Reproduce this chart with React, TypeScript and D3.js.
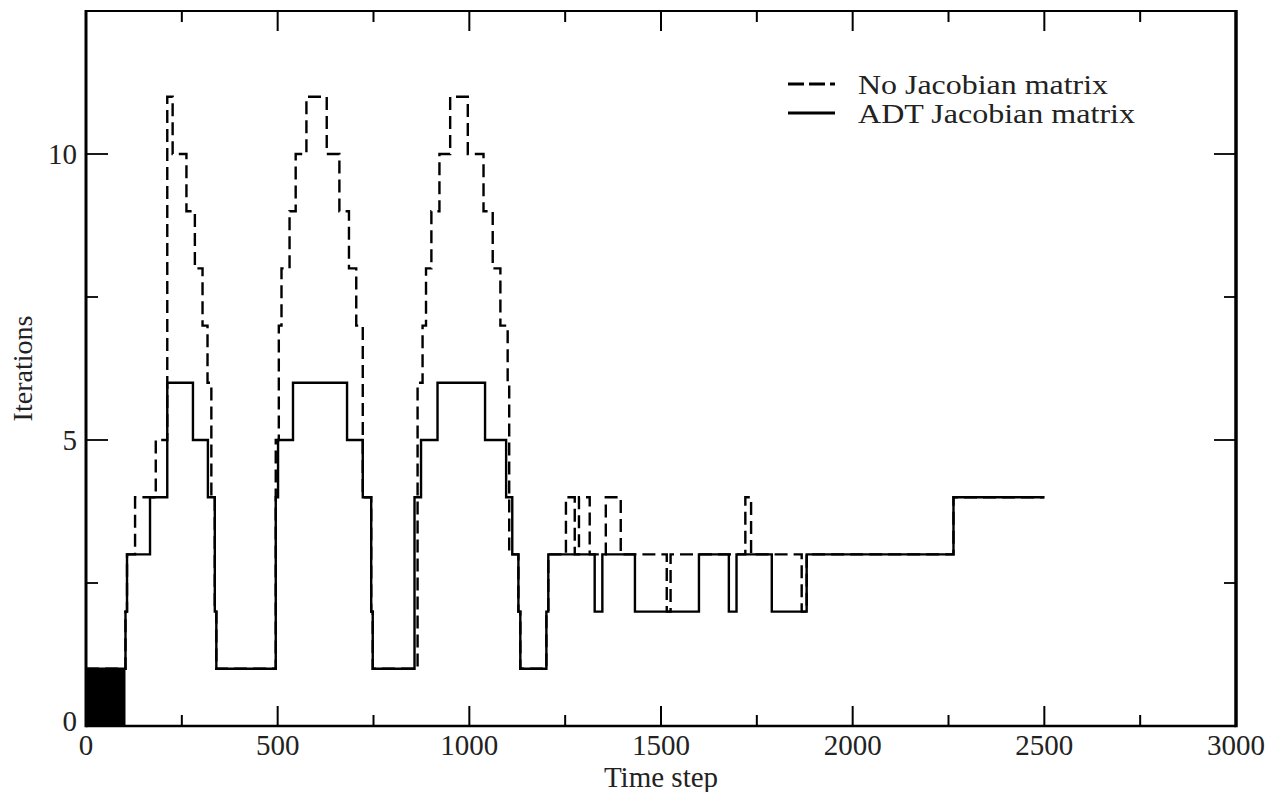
import React from "react";
import * as d3 from "d3";

// step breakpoints: value holds from this time step until the next one
const adtSteps = [0, 103, 107, 167, 212, 279, 318, 336, 340, 495, 501, 540, 681, 722, 744, 748, 857, 874, 917, 1041, 1096, 1112, 1128, 1133, 1201, 1206, 1327, 1347, 1432, 1599, 1677, 1697, 1789, 1880, 2263, 2500];
const adtIters = [1, 2, 3, 4, 6, 5, 4, 2, 1, 4, 5, 6, 5, 4, 2, 1, 4, 5, 6, 5, 4, 3, 2, 1, 2, 3, 2, 3, 2, 3, 2, 3, 2, 3, 4, 4];

const noJacSteps = [0, 103, 107, 128, 182, 212, 226, 262, 284, 304, 317, 327, 336, 340, 495, 503, 510, 531, 547, 575, 628, 661, 686, 705, 722, 744, 748, 865, 878, 887, 901, 922, 950, 996, 1037, 1061, 1081, 1100, 1104, 1128, 1133, 1201, 1206, 1252, 1275, 1286, 1314, 1356, 1395, 1515, 1525, 1720, 1735, 1867, 1880, 2263, 2500];
const noJacIters = [1, 2, 3, 4, 5, 11, 10, 9, 8, 7, 6, 4, 2, 1, 5, 7, 8, 9, 10, 11, 10, 9, 8, 7, 4, 2, 1, 6, 7, 8, 9, 10, 11, 10, 9, 8, 7, 6, 3, 2, 1, 2, 3, 4, 3, 4, 3, 4, 3, 2, 3, 4, 3, 2, 3, 4, 4];

// start-up phase shown as a filled block
const startSteps = [0, 103];
const startIters = [1, 1];

const xMajor = [0, 500, 1000, 1500, 2000, 2500, 3000];
const xMinor = [250, 750, 1250, 1750, 2250, 2750];
const yMajor = [0, 5, 10];
const yMinor = [2.5, 7.5];

const legendLabels = ["No Jacobian matrix", "ADT Jacobian matrix"];

const FONT = "'Liberation Serif', 'Times New Roman', 'DejaVu Serif', serif";

export default function App() {
  const W = 1278, H = 792;
  const x = d3.scaleLinear().domain([0, 3000]).range([86, 1236]);
  const y = d3.scaleLinear().domain([0, 12.5]).range([726, 11]);

  const line = d3.line<[number, number]>()
    .x(d => x(d[0]))
    .y(d => y(d[1]))
    .curve(d3.curveStepAfter);

  const area = d3.area<[number, number]>()
    .x(d => x(d[0]))
    .y0(y(0))
    .y1(d => y(d[1]))
    .curve(d3.curveStepAfter);

  const adt = d3.zip(adtSteps, adtIters) as [number, number][];
  const noJac = d3.zip(noJacSteps, noJacIters) as [number, number][];
  const start = d3.zip(startSteps, startIters) as [number, number][];

  const [x0, x1] = x.range();
  const [yb, yt] = y.range();

  return (
    <svg width={W} height={H} style={{ position: "absolute", left: 0, top: 0, background: "#fff" }}>
      {/* data */}
      <path d={area(start) || ""} fill="#000" />
      <path d={line(noJac) || ""} fill="none" stroke="#000" strokeWidth={2.4} strokeDasharray="13,6" />
      <path d={line(adt) || ""} fill="none" stroke="#000" strokeWidth={2.4} />

      {/* frame */}
      <line x1={x0} x2={x1} y1={yt} y2={yt} stroke="#000" strokeWidth={2} />
      <line x1={x0} x2={x1} y1={yb} y2={yb} stroke="#000" strokeWidth={2.5} />
      <line x1={x0} x2={x0} y1={yt - 1} y2={yb + 1.2} stroke="#000" strokeWidth={3} />
      <line x1={x1} x2={x1} y1={yt - 1} y2={yb + 1.2} stroke="#000" strokeWidth={3.5} />

      {/* x ticks, bottom and top */}
      {xMajor.map(v => (
        <g key={"xM" + v}>
          <line x1={x(v)} x2={x(v)} y1={yb} y2={yb - 20} stroke="#000" strokeWidth={2} />
          <line x1={x(v)} x2={x(v)} y1={yt} y2={yt + 20} stroke="#000" strokeWidth={2} />
          <text x={x(v)} y={755} textAnchor="middle" fontFamily={FONT} fontSize={29} fill="#222">{v}</text>
        </g>
      ))}
      {xMinor.map(v => (
        <g key={"xm" + v}>
          <line x1={x(v)} x2={x(v)} y1={yb} y2={yb - 11} stroke="#000" strokeWidth={2} />
          <line x1={x(v)} x2={x(v)} y1={yt} y2={yt + 11} stroke="#000" strokeWidth={2} />
        </g>
      ))}

      {/* y ticks, left and right */}
      {yMajor.map(v => (
        <g key={"yM" + v}>
          <line x1={x0} x2={x0 + 22} y1={y(v)} y2={y(v)} stroke="#000" strokeWidth={1.8} />
          <line x1={x1} x2={x1 - 22} y1={y(v)} y2={y(v)} stroke="#000" strokeWidth={1.8} />
          <text x={77} y={y(v) + (v === 0 ? 5 : 10)} textAnchor="end" fontFamily={FONT} fontSize={29} fill="#222">{v}</text>
        </g>
      ))}
      {yMinor.map(v => (
        <g key={"ym" + v}>
          <line x1={x0} x2={x0 + 12} y1={y(v)} y2={y(v)} stroke="#000" strokeWidth={1.8} />
          <line x1={x1} x2={x1 - 12} y1={y(v)} y2={y(v)} stroke="#000" strokeWidth={1.8} />
        </g>
      ))}

      {/* axis titles */}
      <text x={(x0 + x1) / 2} y={787} textAnchor="middle" fontFamily={FONT} fontSize={29} fill="#222">Time step</text>
      <text transform={`translate(32, ${(yt + yb) / 2}) rotate(-90)`} textAnchor="middle" fontFamily={FONT} fontSize={28} fill="#222">Iterations</text>

      {/* legend */}
      <line x1={788} x2={835} y1={84} y2={84} stroke="#000" strokeWidth={3} strokeDasharray="16,5" />
      <text x={858} y={94} fontFamily={FONT} fontSize={28} textLength={250} lengthAdjust="spacingAndGlyphs" fill="#222">{legendLabels[0]}</text>
      <line x1={788} x2={835} y1={113} y2={113} stroke="#000" strokeWidth={3} />
      <text x={858} y={123} fontFamily={FONT} fontSize={28} textLength={277} lengthAdjust="spacingAndGlyphs" fill="#222">{legendLabels[1]}</text>
    </svg>
  );
}
